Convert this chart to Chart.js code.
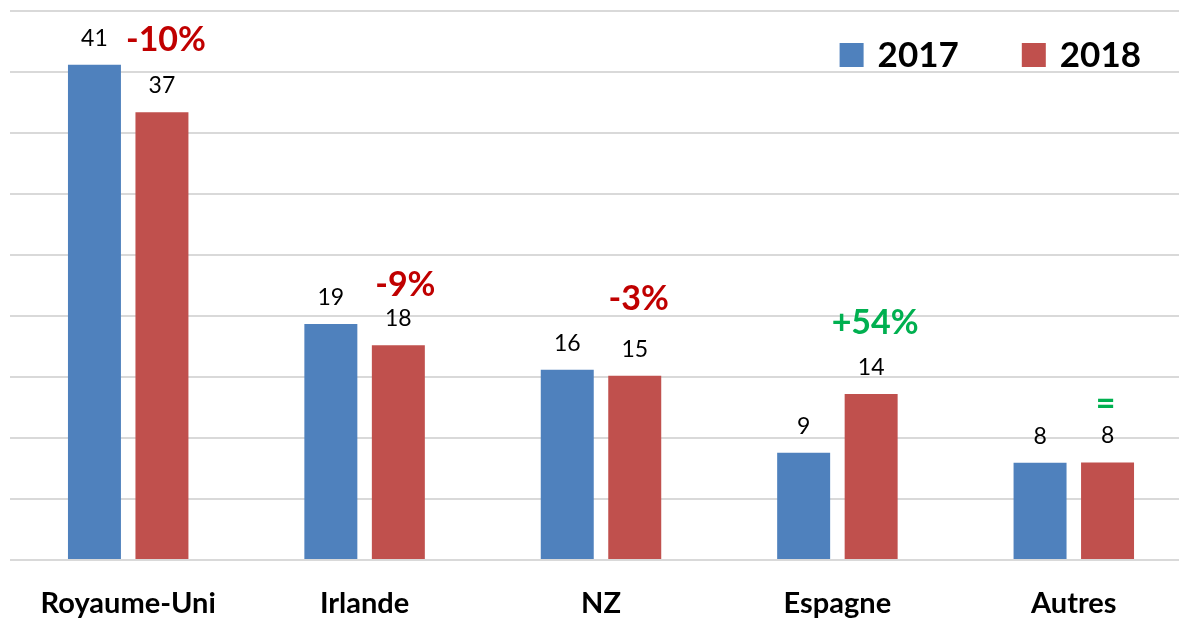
<!DOCTYPE html>
<html>
<head>
<meta charset="utf-8">
<script src="https://cdn.jsdelivr.net/npm/chart.js@4"></script>
<style>
    html, body { margin: 0; padding: 0; background: #fff; overflow: hidden; }
    #wrap { width: 1192px; height: 618px; position: relative; }
</style>
</head>
<body>
<div id="wrap"><canvas id="countryChart"></canvas></div>
<script>
const categories = ["Royaume-Uni", "Irlande", "NZ", "Espagne", "Autres"];
const seriesNames = ["2017", "2018"];
const values2017 = [40.6, 19.35, 15.6, 8.8, 7.97];
const values2018 = [36.7, 17.6, 15.1, 13.6, 8.0];
const changeLabels = ["-10%", "-9%", "-3%", "+54%", "="];
const yTicks = [0, 5, 10, 15, 20, 25, 30, 35, 40, 45];

const FONT = "Lato, 'Open Sans', sans-serif";

// value labels above every bar
const valueLabels = {
    id: "valueLabels",
    afterDatasetsDraw(chart) {
        const ctx = chart.ctx;
        ctx.save();
        ctx.font = "23px " + FONT;
        ctx.fillStyle = "#000";
        ctx.textAlign = "center";
        ctx.textBaseline = "alphabetic";
        chart.data.datasets.forEach((ds, i) => {
            chart.getDatasetMeta(i).data.forEach((bar, j) => {
                ctx.fillText(Math.round(ds.data[j]), bar.x, bar.y - 19);
            });
        });
        ctx.restore();
    }
};

// change annotations above the 2018 bar
const changeNotes = {
    id: "changeNotes",
    afterDatasetsDraw(chart) {
        const ctx = chart.ctx;
        const offsets = [61, 49, 66, 60, 47];
        const shifts = [4, 7, 4, 4, -2];
        ctx.save();
        ctx.font = "bold 34px " + FONT;
        ctx.textAlign = "center";
        ctx.textBaseline = "alphabetic";
        chart.getDatasetMeta(1).data.forEach((bar, j) => {
            const txt = changeLabels[j];
            ctx.fillStyle = txt.startsWith("-") ? "#C00000" : "#00B050";
            ctx.fillText(txt, bar.x + shifts[j], bar.y - offsets[j]);
        });
        ctx.restore();
    }
};

// legend drawn inside the plot, top right
const insideLegend = {
    id: "insideLegend",
    afterDraw(chart) {
        const ctx = chart.ctx;
        const right = 1141;
        const top = chart.chartArea.top + 32;
        const box = 24;
        const gap = 14;
        const itemGap = 63;
        ctx.save();
        ctx.font = "bold 35px " + FONT;
        ctx.textBaseline = "middle";
        let x = right;
        const items = chart.data.datasets.slice().reverse();
        items.forEach(ds => {
            const w = ctx.measureText(ds.label).width;
            x -= w;
            ctx.fillStyle = "#000";
            ctx.fillText(ds.label, x, top + box / 2 + 1);
            x -= gap + box;
            ctx.fillStyle = ds.backgroundColor;
            ctx.fillRect(x, top, box, box);
            x -= itemGap;
        });
        ctx.restore();
    }
};

new Chart(document.getElementById("countryChart"), {
    type: "bar",
    data: {
        labels: categories,
        datasets: [{
            label: seriesNames[0],
            data: values2017,
            backgroundColor: "#4F81BD",
            categoryPercentage: 0.571,
            barPercentage: 0.785
        }, {
            label: seriesNames[1],
            data: values2018,
            backgroundColor: "#C0504D",
            categoryPercentage: 0.571,
            barPercentage: 0.785
        }]
    },
    options: {
        responsive: true,
        maintainAspectRatio: false,
        animation: false,
        layout: {
            padding: { left: 10, top: 11, right: 0, bottom: 0 }
        },
        plugins: {
            legend: { display: false },
            tooltip: { enabled: false }
        },
        scales: {
            x: {
                grid: { display: false, drawTicks: false },
                border: { display: false },
                ticks: {
                    color: "#000",
                    maxRotation: 0,
                    font: { family: FONT, size: 29, weight: "bold" },
                    padding: 26
                },
                afterFit(axis) {
                    axis.height = 58;
                }
            },
            y: {
                min: 0,
                max: 45,
                afterBuildTicks(axis) {
                    axis.ticks = yTicks.map(v => ({ value: v }));
                },
                grid: {
                    color: "#d9d9d9",
                    lineWidth: 2,
                    drawTicks: false
                },
                border: { display: false },
                ticks: { display: false }
            }
        }
    },
    plugins: [valueLabels, changeNotes, insideLegend]
});
</script>
</body>
</html>
